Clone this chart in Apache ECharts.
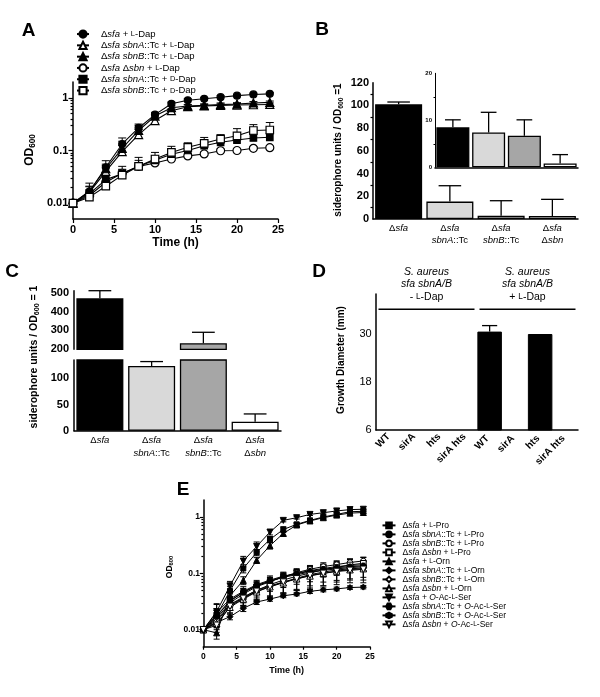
<!DOCTYPE html>
<html><head><meta charset="utf-8">
<script src="https://cdn.jsdelivr.net/npm/echarts@6/dist/echarts.min.js"></script>
<style>html,body{margin:0;padding:0;background:#fff}#c{width:600px;height:697px}</style>
</head><body><div id="c"></div>
<script>
// ---------------- DATA ----------------
const times = [0,2,4,6,8,10,12,14,16,18,20,22,24];

// Panel A (OD600)
const aSfaL    = [0.01,0.0165,0.048,0.133,0.268,0.48,0.77,0.90,0.96,1.03,1.10,1.16,1.19];
const aSbnAL   = [0.01,0.016,0.040,0.095,0.20,0.37,0.57,0.68,0.70,0.72,0.73,0.74,0.75];
const aSbnBL   = [0.01,0.017,0.045,0.110,0.24,0.45,0.65,0.70,0.72,0.75,0.76,0.80,0.82];
const aSbnL    = [0.01,0.014,0.025,0.037,0.050,0.058,0.069,0.079,0.086,0.099,0.100,0.110,0.113];
const aSbnAD   = [0.01,0.015,0.028,0.036,0.050,0.065,0.085,0.100,0.123,0.143,0.158,0.173,0.178];
const aSbnBD   = [0.01,0.013,0.021,0.034,0.050,0.069,0.092,0.115,0.137,0.165,0.190,0.240,0.245];
const aSfaLErr  = [0,0.004,0.016,0.040,0.050,0.050,0.060,0.060,0.060,0.060,0.060,0.060,0.060];
const aSbnALErr = [0,0.008,0.012,0.030,0.050,0.060,0.050,0.050,0.050,0.050,0.050,0.050,0.050];
const aSbnBLErr = [0,0.004,0.010,0.040,0.060,0.050,0.050,0.050,0.050,0.050,0.050,0.050,0.050];
const aSbnLErr  = [0,0.002,0.005,0.006,0.008,0.008,0.008,0.008,0.008,0.008,0.008,0.008,0.008];
const aSbnADErr = [0,0.003,0.006,0.014,0.015,0.015,0.020,0.020,0.025,0.025,0.030,0.030,0.030];
const aSbnBDErr = [0,0.002,0.005,0.010,0.024,0.023,0.028,0.025,0.040,0.035,0.070,0.070,0.095];
const aNames = ['Δsfa + L-Dap','Δsfa sbnA::Tc + L-Dap','Δsfa sbnB::Tc + L-Dap','Δsfa Δsbn + L-Dap','Δsfa sbnA::Tc + D-Dap','Δsfa sbnB::Tc + D-Dap'];
const aLegend = ['Δ{i|sfa} + {s|L}-Dap','Δ{i|sfa sbnA}::Tc + {s|L}-Dap','Δ{i|sfa sbnB}::Tc + {s|L}-Dap','Δ{i|sfa} Δ{i|sbn} + {s|L}-Dap','Δ{i|sfa sbnA}::Tc + {s|D}-Dap','Δ{i|sfa sbnB}::Tc + {s|D}-Dap'];

// Panel B (siderophore units / OD600 = 1)
const bCategories = ['Δsfa','Δsfa sbnA::Tc','Δsfa sbnB::Tc','Δsfa Δsbn'];
const bLabels = ['Δ{i|sfa}','Δ{i|sfa}\n{i|sbnA}::Tc','Δ{i|sfa}\n{i|sbnB}::Tc','Δ{i|sfa}\nΔ{i|sbn}'];
const bValues = [101, 15.3, 2.9, 2.6];
const bErrors = [2, 14, 13.2, 14.7];
const bInsetValues = [8.5, 7.4, 6.7, 0.8];
const bInsetErrors = [1.6, 4.3, 3.4, 1.9];

// Panel C
const cValues = [470, 123.5, 232, 17];
const cErrors = [40, 8.5, 58, 15];

// Panel D (Growth Diameter, mm)
const dCategories = ['WT','sirA','hts','sirA hts','WT ','sirA ','hts ','sirA hts '];
const dValues = [0,0,0,0,30.6,0,30,0];
const dErrors = [0,0,0,0,1.5,0,0,0];
const dGroups = [[0,3],[4,7]];

// Panel E (OD600)
const eProSfa  = [0.01,0.018,0.049,0.122,0.235,0.40,0.60,0.74,0.87,1.00,1.11,1.24,1.26];
const eProSbnA = [0.01,0.018,0.032,0.046,0.061,0.073,0.086,0.100,0.112,0.122,0.132,0.138,0.142];
const eProSbnB = [0.01,0.016,0.030,0.043,0.058,0.071,0.087,0.103,0.118,0.132,0.143,0.156,0.166];
const eProSbn  = [0.01,0.015,0.028,0.038,0.050,0.063,0.076,0.089,0.101,0.116,0.127,0.141,0.151];
const eOrnSfa  = [0.01,0.0088,0.040,0.075,0.17,0.31,0.51,0.72,0.85,0.97,1.08,1.17,1.20];
const eOrnSbnA = [0.01,0.0135,0.017,0.024,0.031,0.035,0.040,0.043,0.048,0.051,0.053,0.056,0.057];
const eOrnSbnB = [0.01,0.014,0.027,0.037,0.050,0.060,0.070,0.082,0.095,0.105,0.115,0.120,0.125];
const eOrnSbn  = [0.01,0.013,0.025,0.035,0.047,0.058,0.068,0.080,0.090,0.100,0.110,0.116,0.121];
const eSerSfa  = [0.01,0.021,0.060,0.165,0.30,0.54,0.87,0.97,1.11,1.19,1.28,1.35,1.37];
const eSerSbnA = [0.01,0.020,0.035,0.048,0.063,0.076,0.089,0.099,0.109,0.118,0.126,0.131,0.136];
const eSerSbnB = [0.01,0.017,0.033,0.046,0.060,0.073,0.085,0.095,0.105,0.113,0.120,0.126,0.131];
const eSerSbn  = [0.01,0.012,0.026,0.036,0.048,0.058,0.070,0.080,0.092,0.100,0.108,0.113,0.118];
const eProSfaErr  = [0,0.004,0.010,0.020,0.030,0.050,0.070,0.060,0.080,0.080,0.100,0.100,0.100];
const eProSbnAErr = [0,0.004,0.005,0.007,0.010,0.012,0.015,0.015,0.020,0.020,0.020,0.020,0.020];
const eProSbnBErr = [0,0.003,0.005,0.008,0.010,0.012,0.015,0.018,0.020,0.022,0.024,0.026,0.028];
const eProSbnErr  = [0,0.003,0.006,0.008,0.012,0.015,0.020,0.025,0.030,0.030,0.035,0.035,0.040];
const eOrnSfaErr  = [0,0.002,0.008,0.012,0.020,0.040,0.050,0.050,0.050,0.050,0.050,0.050,0.050];
const eOrnSbnAErr = [0,0.002,0.002,0.003,0.003,0.003,0.003,0.003,0.004,0.004,0.004,0.004,0.004];
const eOrnSbnBErr = [0,0.003,0.005,0.010,0.015,0.020,0.025,0.030,0.035,0.035,0.040,0.040,0.040];
const eOrnSbnErr  = [0,0.003,0.006,0.010,0.015,0.020,0.025,0.030,0.035,0.040,0.040,0.040,0.045];
const eSerSfaErr  = [0,0.008,0.012,0.035,0.060,0.060,0.050,0.050,0.050,0.050,0.050,0.050,0.050];
const eSerSbnAErr = [0,0.008,0.008,0.010,0.012,0.014,0.016,0.018,0.020,0.020,0.022,0.022,0.024];
const eSerSbnBErr = [0,0.005,0.006,0.008,0.010,0.012,0.014,0.016,0.018,0.018,0.020,0.020,0.022];
const eSerSbnErr  = [0,0.003,0.006,0.010,0.015,0.020,0.025,0.030,0.040,0.040,0.045,0.045,0.050];
const eNames = ['Δsfa + L-Pro','Δsfa sbnA::Tc + L-Pro','Δsfa sbnB::Tc + L-Pro','Δsfa Δsbn + L-Pro',
  'Δsfa + L-Orn','Δsfa sbnA::Tc + L-Orn','Δsfa sbnB::Tc + L-Orn','Δsfa Δsbn + L-Orn',
  'Δsfa + O-Ac-L-Ser','Δsfa sbnA::Tc + O-Ac-L-Ser','Δsfa sbnB::Tc + O-Ac-L-Ser','Δsfa Δsbn + O-Ac-L-Ser'];
const eLegend = ['Δ{i|sfa} + {s|L}-Pro','Δ{i|sfa sbnA}::Tc + {s|L}-Pro','Δ{i|sfa sbnB}::Tc + {s|L}-Pro','Δ{i|sfa} Δ{i|sbn} + {s|L}-Pro',
  'Δ{i|sfa} + {s|L}-Orn','Δ{i|sfa sbnA}::Tc + {s|L}-Orn','Δ{i|sfa sbnB}::Tc + {s|L}-Orn','Δ{i|sfa} Δ{i|sbn} + {s|L}-Orn',
  'Δ{i|sfa} + {i|O}-Ac-{s|L}-Ser','Δ{i|sfa sbnA}::Tc + {i|O}-Ac-{s|L}-Ser','Δ{i|sfa sbnB}::Tc + {i|O}-Ac-{s|L}-Ser','Δ{i|sfa} Δ{i|sbn} + {i|O}-Ac-{s|L}-Ser'];

const logMajor = [0.01,0.1,1];
const logMinor = [0.02,0.03,0.04,0.05,0.06,0.07,0.08,0.09,0.2,0.3,0.4,0.5,0.6,0.7,0.8,0.9];

// ---------------- STYLE ----------------
const FONT = "'Liberation Sans', Arial, Helvetica, sans-serif";
const K = '#000';
const DOWN = 'path://M0,0L10,0L5,9Z';
const HEX = 'path://M2.5,0L7.5,0L10,4.33L7.5,8.66L2.5,8.66L0,4.33Z';
const HEX2 = 'path://M4.33,0L8.66,2.5L8.66,7.5L4.33,10L0,7.5L0,2.5Z';
const aSym = [['circle',1,7],['triangle',0,8],['triangle',1,8],['circle',0,8],['rect',1,6.5],['rect',0,7.5]];
const eSym = [['rect',1,5],['circle',1,5.5],['circle',0,5.5],['rect',0,5.5],['triangle',1,6],['diamond',1,6],['diamond',0,6.5],['triangle',0,6.5],[DOWN,1,6],[HEX,1,5.5],[HEX2,1,5.5],[DOWN,0,6.5]];
const barColors = ['#000','#d9d9d9','#a6a6a6','#fff'];

const aSeriesVals = [aSfaL,aSbnAL,aSbnBL,aSbnL,aSbnAD,aSbnBD];
const aSeriesErr = [aSfaLErr,aSbnALErr,aSbnBLErr,aSbnLErr,aSbnADErr,aSbnBDErr];
const eSeriesVals = [eProSfa,eProSbnA,eProSbnB,eProSbn,eOrnSfa,eOrnSbnA,eOrnSbnB,eOrnSbn,eSerSfa,eSerSbnA,eSerSbnB,eSerSbn];
const eSeriesErr = [eProSfaErr,eProSbnAErr,eProSbnBErr,eProSbnErr,eOrnSfaErr,eOrnSbnAErr,eOrnSbnBErr,eOrnSbnErr,eSerSfaErr,eSerSbnAErr,eSerSbnBErr,eSerSbnErr];

const axisLine = {show:true, onZero:false, lineStyle:{color:K, width:1.5}};
const tickStyle = {color:K, width:1.2};
function lab(size, weight, margin, extra) {
  return Object.assign({color:K, fontFamily:FONT, fontSize:size, fontWeight:weight, margin:margin}, extra||{});
}
function richLab(size, lh) {
  return {
    i:{fontStyle:'italic', fontFamily:FONT, fontSize:size, lineHeight:lh, color:K},
    s:{fontFamily:FONT, fontSize:size*0.78, lineHeight:lh, color:K}
  };
}

// error bar renderers
function lineErr(capHalf, both) {
  return function(params, api) {
    const t = api.value(0), v = api.value(1), e = api.value(2);
    if (!e) return null;
    const c = api.coord([t, v]);
    const top = api.coord([t, v + e]);
    const lo = both && v - e > 0 ? api.coord([t, v - e]) : c;
    const st = {stroke:K, lineWidth:1};
    const ch = [
      {type:'line', shape:{x1:c[0], y1:lo[1], x2:c[0], y2:top[1]}, style:st},
      {type:'line', shape:{x1:c[0]-capHalf, y1:top[1], x2:c[0]+capHalf, y2:top[1]}, style:st}
    ];
    if (both && v - e > 0) ch.push({type:'line', shape:{x1:c[0]-capHalf, y1:lo[1], x2:c[0]+capHalf, y2:lo[1]}, style:st});
    return {type:'group', children:ch};
  };
}
function barErr(frac) {
  return function(params, api) {
    const i = api.value(0), v = api.value(1), e = api.value(2);
    if (!e) return null;
    const c = api.coord([i, v]);
    const top = api.coord([i, v + e]);
    const w = api.size([1, 0])[0] * frac;
    const st = {stroke:K, lineWidth:1.3};
    return {type:'group', children:[
      {type:'line', shape:{x1:c[0], y1:c[1], x2:c[0], y2:top[1]}, style:st},
      {type:'line', shape:{x1:c[0]-w, y1:top[1], x2:c[0]+w, y2:top[1]}, style:st}
    ]};
  };
}

// ---------------- OPTION ----------------
const grids = [
  {left:73, top:82, width:205, height:137},          // 0 A
  {left:373, top:82.7, width:205, height:136.3},     // 1 B main
  {left:435, top:73.3, width:143, height:94},        // 2 B inset
  {left:74, top:290.7, width:207, height:58.6},      // 3 C upper
  {left:74, top:360, width:207, height:70.7},        // 4 C lower
  {left:376, top:294, width:202, height:136},        // 5 D
  {left:203.3, top:500, width:166.7, height:146.7}   // 6 E
].map(g => Object.assign({containLabel:false, outerBoundsMode:'none'}, g));

const catX = (gi, data, labels, size, lh, margin, showLine) => ({
  type:'category', gridIndex:gi, data:data,
  axisLine: showLine ? axisLine : {show:false},
  axisTick:{show:false},
  axisLabel: labels ? {interval:0, color:K, fontFamily:FONT, fontSize:size, lineHeight:lh, margin:margin,
    formatter:(v, i) => labels[i], rich:richLab(size, lh)} : {show:false},
  splitLine:{show:false}
});

const xAxes = [
  {type:'value', gridIndex:0, min:0, max:25, interval:5, axisLine:axisLine,
   axisTick:{length:4, lineStyle:tickStyle}, axisLabel:lab(11,'bold',5.5), splitLine:{show:false}},
  catX(1, bCategories, bLabels, 9.5, 11.7, 4, true),
  catX(2, bCategories, null, 0, 0, 0, true),
  catX(3, bCategories, null, 0, 0, 0, false),
  catX(4, bCategories, bLabels, 9.5, 13, 3.5, true),
  {type:'category', gridIndex:5, data:dCategories, axisLine:axisLine, axisTick:{show:false},
   axisLabel:{interval:0, rotate:45, color:K, fontFamily:FONT, fontSize:10, fontWeight:'bold', margin:5}, splitLine:{show:false}},
  {type:'value', gridIndex:6, min:0, max:25, interval:5, axisLine:axisLine,
   axisTick:{length:3, lineStyle:tickStyle}, axisLabel:lab(8.5,'bold',5.5), splitLine:{show:false}}
];

const logY = (gi, size, margin, tickLen) => ([
  {type:'log', logBase:10, gridIndex:gi, min:0.005, max:2, position:'left', axisLine:axisLine,
   axisTick:{length:tickLen, lineStyle:tickStyle, customValues:logMajor},
   axisLabel:lab(size,'bold',margin,{customValues:logMajor, formatter:v => String(+v)}), splitLine:{show:false}},
  {type:'log', logBase:10, gridIndex:gi, min:0.005, max:2, position:'left', axisLine:{show:false},
   axisTick:{length:tickLen*0.55, lineStyle:tickStyle, customValues:logMinor},
   axisLabel:{show:false}, splitLine:{show:false}}
]);

const yAxes = [
  ...logY(0, 11, 4.7, 4.5),                                  // 0,1
  {type:'value', gridIndex:1, min:0, max:120, interval:20, axisLine:axisLine,
   axisTick:{length:4.5, lineStyle:tickStyle}, minorTick:{show:true, splitNumber:2, length:2.5, lineStyle:tickStyle},
   axisLabel:lab(11,'bold',4), splitLine:{show:false}},       // 2
  {type:'value', gridIndex:2, min:0, max:20, interval:10, axisLine:{show:true, onZero:false, lineStyle:{color:K, width:1}},
   axisTick:{length:2.5, lineStyle:{color:K,width:1}}, minorTick:{show:true, splitNumber:2, length:1.5, lineStyle:{color:K,width:1}},
   axisLabel:lab(6,'bold',3), splitLine:{show:false}},        // 3
  {type:'value', gridIndex:3, min:200, max:510, axisLine:axisLine,
   axisTick:{length:4.5, lineStyle:tickStyle, customValues:[200,300,400,500]},
   axisLabel:lab(11,'bold',5,{customValues:[200,300,400,500]}), splitLine:{show:false}},   // 4
  {type:'value', gridIndex:4, min:0, max:135, axisLine:axisLine,
   axisTick:{length:4.5, lineStyle:tickStyle, customValues:[0,50,100,135]},
   axisLabel:lab(11,'bold',5,{customValues:[0,50,100]}), splitLine:{show:false}},          // 5
  {type:'value', gridIndex:5, min:6, max:40, position:'left', axisLine:axisLine,
   axisTick:{length:4.5, lineStyle:tickStyle, customValues:[6,18,30]},
   axisLabel:lab(11,'normal',4.3,{customValues:[6,18,30]}), splitLine:{show:false}},       // 6
  {type:'value', gridIndex:5, min:6, max:40, position:'left', axisLine:{show:false},
   axisTick:{length:2.5, lineStyle:tickStyle, customValues:[12,24,36]},
   axisLabel:{show:false}, splitLine:{show:false}},                                         // 7
  ...logY(6, 8.5, 3.3, 3.5)                                  // 8,9
];

const series = [];
// Panel A lines
aNames.forEach((n, k) => {
  const [sym, filled, size] = aSym[k];
  series.push({type:'line', name:n, xAxisIndex:0, yAxisIndex:0, z:3,
    data: times.map((t, i) => [t, aSeriesVals[k][i]]),
    symbol:sym, symbolSize:size, showSymbol:true,
    lineStyle:{color:K, width:1.1},
    itemStyle:{color: filled ? K : '#fff', borderColor:K, borderWidth:1.2}});
  series.push({type:'custom', xAxisIndex:0, yAxisIndex:0, z:2, renderItem: lineErr(4, false),
    encode:{x:0, y:1}, data: times.map((t, i) => [t, aSeriesVals[k][i], aSeriesErr[k][i]])});
});
// Panel B
const barSeries = (xi, yi, vals, w, keep) => ({type:'bar', xAxisIndex:xi, yAxisIndex:yi, barWidth:w, z:2,
  data: vals.map((v, i) => keep(v) ? {value:v, itemStyle:{color:barColors[i]}} : '-'),
  itemStyle:{borderColor:K, borderWidth:1.3}});
series.push(barSeries(1, 2, bValues, 47, () => true));
series.push({type:'custom', xAxisIndex:1, yAxisIndex:2, z:3, renderItem:barErr(0.22), encode:{x:0,y:1},
  data: bValues.map((v, i) => [i, v, bErrors[i]])});
series.push(barSeries(2, 3, bInsetValues, 33, () => true));
series.push({type:'custom', xAxisIndex:2, yAxisIndex:3, z:3, renderItem:barErr(0.22), encode:{x:0,y:1},
  data: bInsetValues.map((v, i) => [i, v, bInsetErrors[i]])});
// Panel C (broken axis)
series.push(barSeries(3, 4, cValues, 47, v => v > 200));
series.push(barSeries(4, 5, cValues, 47, () => true));
series.push({type:'custom', xAxisIndex:3, yAxisIndex:4, z:3, renderItem:barErr(0.22), encode:{x:0,y:1},
  data: cValues.map((v, i) => [i, v, cErrors[i]]).filter(d => d[1] > 200)});
series.push({type:'custom', xAxisIndex:4, yAxisIndex:5, z:3, renderItem:barErr(0.22), encode:{x:0,y:1},
  data: cValues.map((v, i) => [i, v, cErrors[i]]).filter(d => d[1] < 135)});
// Panel D
series.push({type:'bar', xAxisIndex:5, yAxisIndex:6, barWidth:24.5, z:2, data:dValues,
  itemStyle:{color:K, borderColor:K, borderWidth:1}});
series.push({type:'custom', xAxisIndex:5, yAxisIndex:6, z:3, renderItem:barErr(0.3), encode:{x:0,y:1},
  data: dValues.map((v, i) => [i, v, dErrors[i]])});
series.push({type:'custom', xAxisIndex:5, yAxisIndex:6, z:3, encode:{x:0, y:2},
  data: dGroups.map(g => [g[0], g[1], 36.2]),
  renderItem: function(params, api) {
    const p0 = api.coord([api.value(0), api.value(2)]);
    const p1 = api.coord([api.value(1), api.value(2)]);
    const bw = api.size([1, 0])[0];
    return {type:'line', shape:{x1:p0[0]-bw/2+2.5, y1:p0[1], x2:p1[0]+bw/2-2.5, y2:p1[1]}, style:{stroke:K, lineWidth:1.5}};
  }});
// Panel E lines
eNames.forEach((n, k) => {
  const [sym, filled, size] = eSym[k];
  series.push({type:'line', name:n, xAxisIndex:6, yAxisIndex:8, z:3,
    data: times.map((t, i) => [t, eSeriesVals[k][i]]),
    symbol:sym, symbolSize:size, showSymbol:true,
    lineStyle:{color:K, width:1},
    itemStyle:{color: filled ? K : '#fff', borderColor:K, borderWidth:1}});
  series.push({type:'custom', xAxisIndex:6, yAxisIndex:8, z:2, renderItem: lineErr(3, true),
    encode:{x:0, y:1}, data: times.map((t, i) => [t, eSeriesVals[k][i], eSeriesErr[k][i]])});
});

const legendBase = (names, labels, left, top, size, lh, iw, ih, pad) => ({
  data:names, orient:'vertical', left:left, top:top, padding:0, itemGap:0,
  itemWidth:iw, itemHeight:ih, selectedMode:false,
  formatter: n => labels[names.indexOf(n)],
  textStyle:{color:K, fontFamily:FONT, fontSize:size, lineHeight:lh, padding:[0,0,0,pad], rich:richLab(size, lh)}
});

function nameText(x, y, parts, size, rotate) {
  return {type:'text', x:x, y:y, rotation: rotate ? Math.PI/2 : 0, z:10,
    style:{text:parts, align:'center', verticalAlign:'middle', fill:K,
      rich:{
        b:{fontFamily:FONT, fontSize:size, fontWeight:'bold', lineHeight:size, verticalAlign:'top', fill:K},
        sub:{fontFamily:FONT, fontSize:size*0.68, fontWeight:'bold', lineHeight:size*1.6, verticalAlign:'middle', fill:K}
      }}};
}
function panelLetter(x, y, t) {
  return {type:'text', x:x, y:y, z:10, style:{text:t, fontFamily:FONT, fontSize:19, fontWeight:'bold', fill:K, align:'center', verticalAlign:'middle'}};
}
function dNote(x, sign) {
  return {type:'text', x:x, y:284.5, z:10, style:{
    text:'{it|S. aureus}\n{it|sfa sbnA/B}\n{n|' + sign + ' }{sm|L}{n|-Dap}', align:'center', verticalAlign:'middle', fill:K,
    rich:{it:{fontFamily:FONT, fontStyle:'italic', fontSize:10.5, lineHeight:12.5, fill:K},
          n:{fontFamily:FONT, fontSize:10.5, lineHeight:12.5, fill:K},
          sm:{fontFamily:FONT, fontSize:8.2, lineHeight:12.5, fill:K}}}};
}

const option = {
  animation:false,
  backgroundColor:'#fff',
  textStyle:{fontFamily:FONT},
  grid:grids,
  xAxis:xAxes,
  yAxis:yAxes,
  legend:[
    legendBase(aNames, aLegend, 76, 28.4, 9.5, 11.3, 12, 9, 7),
    legendBase(eNames, eLegend, 381.5, 520.9, 8.5, 8.76, 13, 7, 2)
  ],
  series:series,
  graphic:[
    panelLetter(28.5, 30.5, 'A'), panelLetter(322, 30, 'B'), panelLetter(12, 272, 'C'),
    panelLetter(319, 272, 'D'), panelLetter(183, 490, 'E'),
    nameText(33, 150, '{b|OD}{sub|600}', 12, true),
    nameText(175.5, 243, '{b|Time (h)}', 12, false),
    nameText(341, 150, '{b|siderophore units / OD}{sub|600}{b| =1}', 10, true),
    nameText(37.5, 357, '{b|siderophore units / OD}{sub|600}{b| = 1}', 10.5, true),
    nameText(341, 360, '{b|Growth Diameter (mm)}', 10, true),
    nameText(171.7, 567, '{b|OD}{sub|600}', 8.5, true),
    nameText(286.7, 671, '{b|Time (h)}', 9, false),
    dNote(426.5, '-'), dNote(527.5, '+')
  ]
};

const chart = echarts.init(document.getElementById('c'));
chart.setOption(option);
</script>
</body></html>
